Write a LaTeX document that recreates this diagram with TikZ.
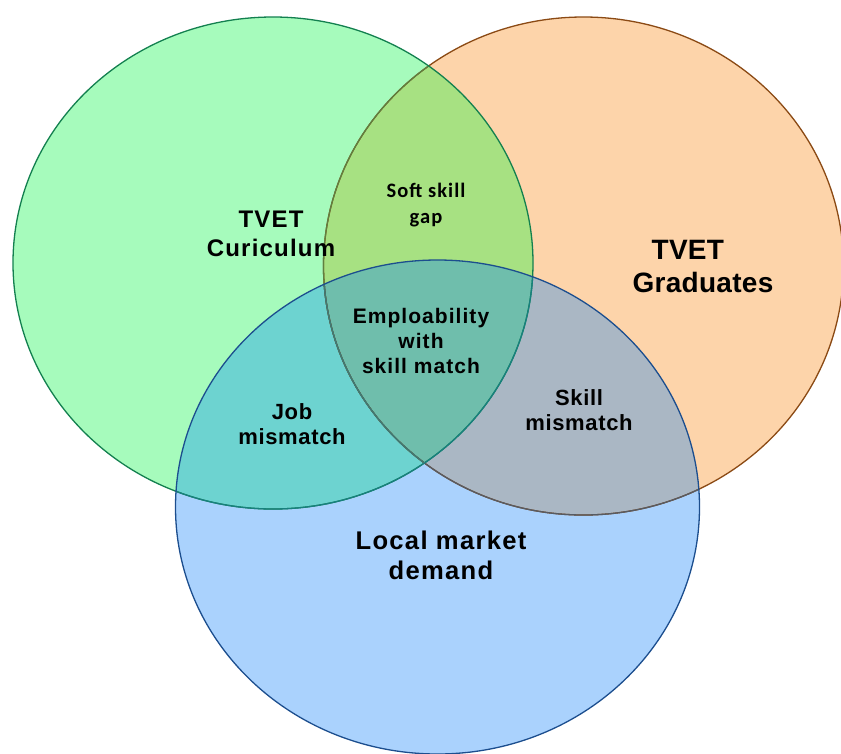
\documentclass[tikz,border=0pt]{standalone}
\usepackage{fontspec}
\setmainfont{Liberation Sans}
\newfontfamily\softfont{Carlito}

% region fills
\definecolor{gfill}{HTML}{A6FBBC}
\definecolor{ofill}{HTML}{FDD4AA}
\definecolor{bfill}{HTML}{AAD2FD}
\definecolor{gofill}{HTML}{A7E182}
\definecolor{gbfill}{HTML}{6DD3D0}
\definecolor{obfill}{HTML}{AAB7C4}
\definecolor{allfill}{HTML}{6FBEAC}
% outlines
\definecolor{gline}{HTML}{13804F}
\definecolor{oline}{HTML}{8B4A14}
\definecolor{bline}{HTML}{1C4E8E}
% outlines seen through the tinted layers
\definecolor{olineG}{HTML}{5E8040}
\definecolor{olineB}{HTML}{565B63}
\definecolor{olineGB}{HTML}{3F7A74}
\definecolor{glineB}{HTML}{18807E}

\begin{document}
\begin{tikzpicture}[x=1pt,y=-1pt,
  rim/.style={line width=1.3pt},
  lbl/.style={align=center, inner sep=0pt, text=black}
]
\useasboundingbox (0,0) rectangle (841,753);
\clip (0,0) rectangle (841,753);

\def\curric{(273,263) ellipse [x radius=260pt, y radius=246pt]}
\def\grads{(583.5,266) ellipse [x radius=260pt, y radius=249pt]}
\def\market{(437.5,507) ellipse [x radius=262pt, y radius=247pt]}

% single sets
\fill[gfill] \curric;
\fill[ofill] \grads;
\fill[bfill] \market;

% pairwise overlaps
\begin{scope}
  \clip \curric;
  \fill[gofill] \grads;
  \fill[gbfill] \market;
\end{scope}
\begin{scope}
  \clip \grads;
  \fill[obfill] \market;
\end{scope}
% triple overlap
\begin{scope}
  \clip \curric;
  \clip \grads;
  \fill[allfill] \market;
\end{scope}

% outlines: graduates lowest, then curriculum, market on top
\draw[rim, oline] \grads;
\begin{scope}
  \clip \curric;
  \draw[rim, olineG] \grads;
\end{scope}
\draw[rim, gline] \curric;
\begin{scope}
  \clip \market;
  \draw[rim, olineB] \grads;
  \draw[rim, glineB] \curric;
  \clip \curric;
  \draw[rim, olineGB] \grads;
\end{scope}
\draw[rim, bline] \market;

% labels
\node[lbl, font=\bfseries\fontsize{24}{29}\selectfont\addfontfeature{LetterSpace=5}]
  (curriculum) at (271,234) {TVET\\Curiculum};
\node[lbl, align=left, font=\bfseries\fontsize{28}{33}\selectfont\addfontfeature{LetterSpace=1}]
  (graduates) at (703,266) {\hspace*{19pt}TVET\\Graduates};
\node[lbl, font=\softfont\bfseries\fontsize{20.5}{26}\selectfont\addfontfeature{LetterSpace=5}]
  (softgap) at (426,205) {Soft skill\\gap};
\node[lbl, font=\bfseries\fontsize{21}{24.7}\selectfont\addfontfeature{LetterSpace=5}]
  (employ) at (421,341) {Emploability\\with\\skill match};
\node[lbl, font=\bfseries\fontsize{22}{25}\selectfont\addfontfeature{LetterSpace=3}]
  (jobmis) at (292,424) {Job\\mismatch};
\node[lbl, font=\bfseries\fontsize{22}{25}\selectfont\addfontfeature{LetterSpace=3}]
  (skillmis) at (579,410) {Skill\\mismatch};
\node[lbl, font=\bfseries\fontsize{25.6}{30}\selectfont\addfontfeature{LetterSpace=5}]
  (market) at (441,555) {Local market\\demand};
\end{tikzpicture}
\end{document}
